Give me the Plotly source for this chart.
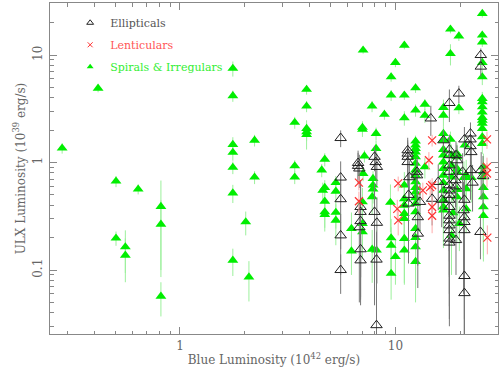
import plotly.graph_objects as go

# ---------------- data ----------------
# Spirals & Irregulars
sp_x = [0.284, 0.417, 0.505, 0.64, 0.816, 0.816, 0.816, 0.505, 0.558, 0.558,
        1.76, 1.76, 1.76, 1.76, 1.76, 1.76, 1.76, 2.02, 2.09, 2.22,
        2.22, 3.41, 3.41, 3.41, 3.87, 3.87, 3.87, 3.87, 3.87, 4.7,
        4.55, 4.7, 4.6, 5.29, 5.29, 4.7, 4.7, 4.7, 5.29, 5.29,
        7.08, 7.03, 7.03, 7.79, 8.13, 8.13, 7.18, 7.08, 7.87, 7.87,
        7.87, 7.8, 7.03, 7.03, 6.25, 8.89, 9.55, 9.55, 10.0, 11.0,
        11.0, 11.0, 12.4, 12.4, 13.7, 13.7, 18.0, 19.7, 18.0, 16.7,
        16.7, 19.7, 25.3, 25.3, 25.3, 25.3, 25.3, 25.3, 25.3, 25.3,
        25.3, 25.3, 25.3, 25.3, 25.3, 25.3, 16.7, 16.7, 18.0, 12.4,
        12.4, 12.4, 12.4, 12.4, 12.4, 12.4, 12.4, 12.4, 12.4, 12.4,
        12.4, 12.4, 12.4, 12.4, 12.4, 12.4, 12.4, 13.7, 9.48, 11.0,
        11.0, 11.0, 11.0, 11.0, 11.0, 11.0, 9.55, 9.55, 9.55, 10.0,
        6.25, 7.03, 7.8, 8.17, 16.7, 16.7, 16.7, 16.7, 16.7, 16.7,
        16.7, 16.7, 16.7, 16.7, 18.2, 18.2, 18.2, 19.3, 19.3, 19.3,
        19.3, 19.3, 19.3, 20.8, 21.3, 22.5, 21.3, 21.0, 25.6, 25.6,
        25.6, 25.6, 25.6, 25.6, 25.6, 18.2, 18.5, 19.8, 21.3, 25.3]
sp_y = [1.36, 4.9, 0.67, 0.565, 0.39, 0.266, 0.057, 0.198, 0.164, 0.137,
        7.5, 4.17, 1.47, 1.24, 0.90, 0.52, 0.123, 0.28, 0.086, 1.61,
        0.73, 2.36, 0.93, 0.73, 4.78, 3.34, 2.07, 1.93, 1.82, 1.07,
        0.85, 0.585, 0.55, 0.65, 0.54, 0.436, 0.347, 0.328, 0.343, 0.29,
        11.1, 2.12, 2.03, 3.34, 1.86, 1.35, 1.15, 0.79, 0.71, 0.615,
        0.565, 0.48, 0.43, 0.27, 0.243, 2.8, 6.25, 4.23, 8.5, 12.3,
        4.23, 2.6, 4.94, 3.07, 3.48, 2.74, 17.4, 15.0, 10.3, 3.25,
        2.75, 3.22, 24.3, 15.3, 13.2, 8.5, 6.25, 3.94, 3.66, 3.29,
        2.94, 2.62, 2.31, 2.07, 1.73, 1.50, 1.86, 1.61, 1.64, 1.58,
        1.45, 1.35, 1.25, 1.13, 0.98, 0.85, 0.76, 0.66, 0.585, 0.53,
        0.47, 0.415, 0.347, 0.243, 0.20, 0.164, 0.12, 0.91, 0.425, 0.615,
        0.40, 0.335, 0.30, 0.46, 0.196, 0.153, 0.199, 0.17, 0.093, 0.133,
        0.15, 0.226, 0.156, 0.153, 0.65, 0.55, 0.45, 0.386, 0.36, 1.32,
        1.17, 1.01, 0.88, 0.76, 1.17, 0.94, 0.73, 1.21, 1.13, 0.88,
        0.82, 0.56, 0.48, 0.725, 0.76, 0.725, 0.57, 1.45, 0.91, 0.82,
        0.73, 0.585, 0.48, 0.386, 0.32, 0.21, 0.34, 0.27, 0.37, 2.47]
sp_err = [0.15, 0.4, 0.08, 0.06, 0.29, 0.18, 0.02, 0.03, 0.07, 0.06,
          1.2, 0.5, 0.25, 0.2, 0.12, 0.1, 0.035, 0.07, 0.035, 0.2,
          0.1, 0.3, 0.12, 0.1, 0.5, 0.4, 0.4, 0.35, 0.5, 0.15,
          0.12, 0.1, 0.1, 0.1, 0.1, 0.1, 0.1, 0.1, 0.1, 0.12,
          0.8, 0.3, 0.3, 0.4, 0.25, 0.25, 0.15, 0.12, 0.12, 0.12,
          0.15, 0.15, 0.15, 0.12, 0.1, 0.3, 0.6, 0.5, 0.8, 1.0,
          0.4, 0.4, 0.5, 0.4, 0.4, 0.4, 1.5, 1.5, 2.3, 0.6,
          0.6, 0.4, 2.0, 1.5, 1.3, 1.0, 1.0, 0.6, 0.6, 0.5,
          0.5, 0.5, 0.4, 0.4, 0.3, 0.3, 0.3, 0.3, 0.3, 0.2,
          0.2, 0.2, 0.2, 0.2, 0.2, 0.2, 0.2, 0.2, 0.2, 0.2,
          0.2, 0.2, 0.2, 0.12, 0.1, 0.09, 0.07, 0.2, 0.2, 0.2,
          0.2, 0.15, 0.15, 0.2, 0.12, 0.08, 0.1, 0.08, 0.04, 0.06,
          0.06, 0.1, 0.08, 0.08, 0.2, 0.2, 0.2, 0.2, 0.2, 0.3,
          0.3, 0.3, 0.3, 0.3, 0.3, 0.3, 0.3, 0.3, 0.3, 0.3,
          0.3, 0.3, 0.3, 0.3, 0.3, 0.3, 0.3, 0.3, 0.3, 0.3,
          0.3, 0.3, 0.3, 0.25, 0.2, 0.12, 0.15, 0.12, 0.15, 0.4]

# Ellipticals
el_x = [5.57, 6.71, 6.71, 6.8, 8.0, 8.1, 8.2, 5.57, 5.57, 6.89,
        6.89, 8.0, 6.89, 8.2, 6.8, 5.57, 5.57, 6.89, 6.89, 8.17,
        8.17, 11.4, 11.4, 11.4, 11.4, 11.6, 11.5, 11.5, 12.6, 12.6,
        12.7, 12.7, 14.6, 17.8, 19.7, 24.9, 24.9, 16.7, 20.9, 22.3,
        22.3, 22.3, 22.5, 14.8, 15.8, 16.4, 17.8, 17.8, 17.8, 17.8,
        17.8, 17.8, 17.8, 17.8, 17.8, 17.8, 17.8, 17.8, 17.8, 17.8,
        19.1, 19.3, 19.0, 19.1, 19.1, 20.5, 20.9, 20.7, 20.9, 20.9,
        20.9, 20.9, 20.9, 22.3, 22.8, 25.0, 25.5, 24.8, 17.8, 13.0]
el_y = [1.69, 0.99, 0.93, 0.88, 1.13, 1.01, 0.91, 0.725, 0.456, 0.386,
        0.347, 0.347, 0.285, 0.275, 0.25, 0.21, 0.10, 0.156, 0.123, 0.125,
        0.0307, 1.30, 1.21, 1.13, 1.01, 0.73, 0.50, 0.415, 0.82, 0.76,
        0.31, 0.218, 2.57, 3.58, 4.38, 10.0, 7.8, 1.61, 1.64, 1.86,
        1.64, 1.42, 1.25, 0.46, 0.66, 0.45, 1.32, 1.17, 0.94, 0.82,
        0.615, 0.55, 0.45, 0.386, 0.32, 0.29, 0.26, 0.235, 0.196, 0.18,
        1.17, 1.05, 0.685, 0.60, 0.19, 0.82, 0.45, 0.36, 0.31, 0.28,
        0.235, 0.088, 0.061, 0.85, 0.65, 0.85, 0.75, 0.226, 0.50, 0.43]
el_err = [0.3, 0.3, 0.3, 0.3, 0.3, 0.3, 0.3, 0.3, 0.3, 0.3,
          0.3, 0.3, 0.2, 0.2, 0.2, 0.12, 0.04, 0.1, 0.07, 0.1,
          0.016, 0.4, 0.4, 0.4, 0.4, 0.3, 0.3, 0.3, 0.3, 0.3,
          0.2, 0.15, 0.8, 1.2, 0.8, 1.5, 1.5, 0.4, 0.5, 0.5,
          0.5, 0.5, 0.5, 0.2, 0.3, 0.2, 0.5, 0.5, 0.5, 0.5,
          0.4, 0.4, 0.3, 0.3, 0.2, 0.2, 0.2, 0.2, 0.15, 0.15,
          0.4, 0.4, 0.3, 0.3, 0.1, 0.4, 0.3, 0.3, 0.3, 0.3,
          0.2, 0.09, 0.07, 0.4, 0.3, 0.4, 0.4, 0.1, 0.3, 0.2]

# Lenticulars
le_x = [6.77, 6.77, 10.3, 10.2, 10.3, 14.3, 14.8, 13.4, 14.5, 14.8,
        14.8, 14.8, 26.6, 26.6, 26.6, 26.7]
le_y = [0.65, 0.436, 0.64, 0.37, 0.29, 1.05, 1.61, 0.55, 0.59, 0.615,
        0.386, 0.32, 1.64, 0.91, 0.79, 0.20]
le_err = [0.1, 0.1, 0.1, 0.08, 0.08, 0.2, 0.2, 0.1, 0.1, 0.1,
          0.1, 0.1, 0.3, 0.2, 0.2, 0.06]

legend_names = ["Ellipticals", "Lenticulars", "Spirals & Irregulars"]
x_title = "Blue Luminosity (10<sup>42</sup> erg/s)"
y_title = "ULX Luminosity (10<sup>39</sup> erg/s)"
x_ticks = [1, 10]
y_ticks = [0.1, 1, 10]

# ---------------- styling ----------------
GREEN = "#00ee00"
RED = "#ff3333"
BLACK = "#222222"
AXC = "#888888"
FONT = "DejaVu Serif"

fig = go.Figure()

fig.add_trace(go.Scatter(
    x=sp_x, y=sp_y, mode="markers", showlegend=False,
    marker=dict(symbol="triangle-up", size=9.5, color=GREEN, line=dict(width=0)),
    error_y=dict(type="data", array=sp_err, color="#9cf09c", thickness=1, width=0)))
fig.add_trace(go.Scatter(
    x=el_x, y=el_y, mode="markers", showlegend=False,
    marker=dict(symbol="triangle-up-open", size=10, color=BLACK, line=dict(width=1, color=BLACK)),
    error_y=dict(type="data", array=el_err, color="#777777", thickness=1, width=0)))
fig.add_trace(go.Scatter(
    x=le_x, y=le_y, mode="markers", showlegend=False,
    marker=dict(symbol="x-thin-open", size=8, color=RED, line=dict(width=1.2, color=RED)),
    error_y=dict(type="data", array=le_err, color="#ffaaaa", thickness=1, width=0)))

# legend entries
leg_cols = ["#555555", "#ff5555", "#33ee33"]
leg_syms = [dict(symbol="triangle-up-open", size=6, color=BLACK, line=dict(width=1, color=BLACK)),
            dict(symbol="x-thin-open", size=5, color=RED, line=dict(width=1, color=RED)),
            dict(symbol="triangle-up", size=6, color=GREEN, line=dict(width=0))]
for i, (nm, col, mk) in enumerate(zip(legend_names, leg_cols, leg_syms)):
    fig.add_trace(go.Scatter(
        x=[None], y=[None], mode="markers", marker=mk, legendgroup=str(i),
        name=f"<span style='color:{col}'>{nm}</span>"))

axis_common = dict(
    type="log", showline=True, linecolor=AXC, linewidth=1, mirror="allticks",
    ticks="inside", ticklen=7, tickcolor=AXC, tickwidth=1,
    showgrid=False, zeroline=False,
    tickfont=dict(family=FONT, size=12, color="#666666"),
    automargin=False,
)

x_minor = [0.3, 0.4, 0.5, 0.6, 0.7, 0.8, 0.9, 2, 3, 4, 5, 6, 7, 8, 9, 20]
y_minor = [0.03, 0.04, 0.05, 0.06, 0.07, 0.08, 0.09, 0.2, 0.3, 0.4, 0.5, 0.6, 0.7,
           0.8, 0.9, 2, 3, 4, 5, 6, 7, 8, 9, 20, 30]

fig.update_xaxes(**axis_common, range=[-0.603, 1.476], tickvals=x_ticks,
                 ticktext=[str(v) for v in x_ticks],
                 minor=dict(tickvals=x_minor, ticks="inside", ticklen=3.5, tickcolor=AXC),
                 title=dict(text=x_title, font=dict(family=FONT, size=12, color="#666666"), standoff=3),
                 ticklabelstandoff=1)
fig.update_yaxes(**axis_common, range=[-1.595, 1.484], tickvals=y_ticks,
                 ticktext=["0.1", "1", "10"], tickangle=-90,
                 minor=dict(tickvals=y_minor, ticks="inside", ticklen=3.5, tickcolor=AXC),
                 title=dict(text=y_title, font=dict(family=FONT, size=12, color="#666666"), standoff=3),
                 ticklabelstandoff=2)

fig.update_layout(
    width=499, height=372,
    margin=dict(l=50, r=1, t=3, b=38),
    paper_bgcolor="white", plot_bgcolor="white",
    hovermode=False,
    legend=dict(x=0.045, y=0.984, xanchor="left", yanchor="top",
                bgcolor="rgba(0,0,0,0)", font=dict(family=FONT, size=11),
                tracegroupgap=3, traceorder="grouped", itemwidth=30),
)

fig.write_html("out.html", config={"displayModeBar": False},
               post_script="document.body.style.margin='0';")
